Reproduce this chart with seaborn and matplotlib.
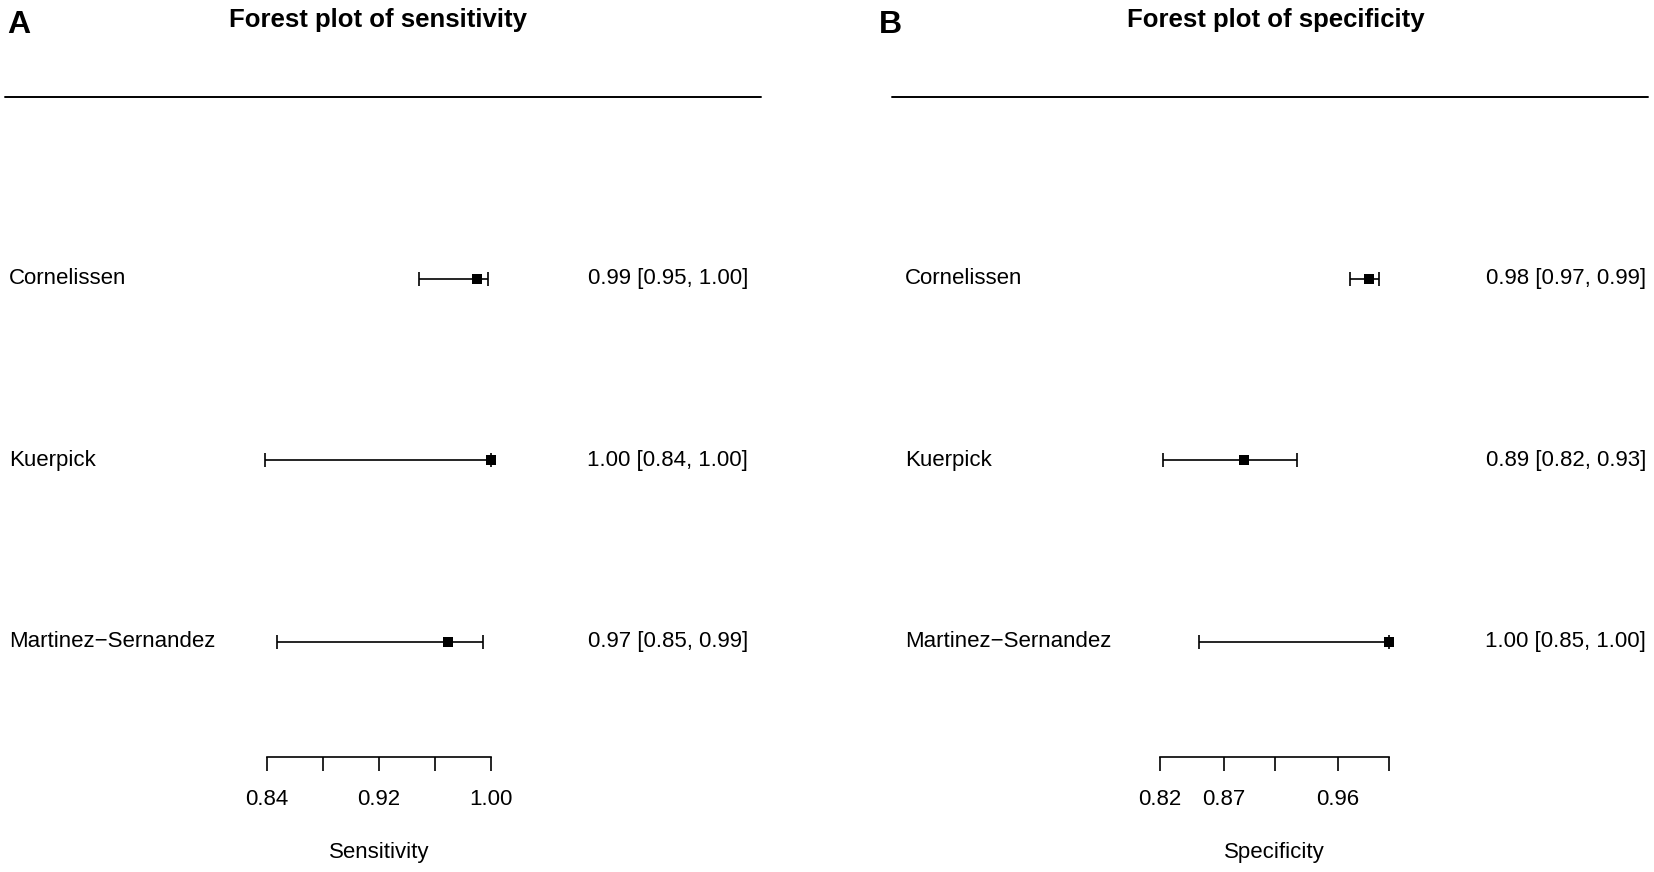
import numpy as np
import pandas as pd
import matplotlib
matplotlib.use('Agg')
import matplotlib.pyplot as plt
from matplotlib.lines import Line2D
from matplotlib.transforms import blended_transform_factory
import seaborn as sns

sns.set_theme(style='white')
plt.rcParams['font.family'] = ['Liberation Sans', 'DejaVu Sans']

# study names, top to bottom
studies = ['Cornelissen', 'Kuerpick', 'Martinez\u2212Sernandez']

# sensitivity estimates and 95% CI
sens_est = [0.990, 1.000, 0.969]
sens_lo = [0.9486, 0.8386, 0.847]
sens_hi = [0.998, 1.000, 0.994]
sens_ticks = [0.84, 0.88, 0.92, 0.96, 1.00]
sens_ticklabels = ['0.84', '', '0.92', '', '1.00']

# specificity estimates and 95% CI
spec_est = [0.984, 0.886, 1.000]
spec_lo = [0.969, 0.822, 0.851]
spec_hi = [0.992, 0.928, 1.000]
spec_ticks = [0.82, 0.87, 0.91, 0.96, 1.00]
spec_ticklabels = ['0.82', '0.87', '', '0.96', '']

W, H = 1654, 872
FS = 16


def fx(px):
    return px / W


def fy(py):
    return 1 - py / H


def forest_panel(fig, letter, title, est, lo, hi, ticks, ticklabels, xlabel,
                 ax_px, panel_px, title_x):
    left, right = ax_px
    p_left, p_right, lab_x, txt_x, letter_x = panel_px
    ax = fig.add_axes([fx(left), fy(757), fx(right - left), fy(97) - fy(757)])

    rows = [3, 2, 1]
    df = pd.DataFrame({'study': studies, 'est': est, 'lo': lo, 'hi': hi, 'row': rows})

    eb = ax.errorbar(df['est'], df['row'],
                     xerr=[df['est'] - df['lo'], df['hi'] - df['est']],
                     fmt='none', ecolor='black', elinewidth=1.2, capsize=4.7,
                     capthick=1.2, zorder=2)
    for art in eb.lines[1] + eb.lines[2]:
        art.set_clip_on(False)
    sns.scatterplot(data=df, x='est', y='row', marker='s', s=60, color='black',
                    edgecolor='black', linewidth=0, ax=ax, zorder=3, legend=False,
                    clip_on=False)

    ax.set_xlim(ticks[0], ticks[-1])
    ax.set_ylim(0.366, 4.0)
    ax.set_yticks([])
    for s in ['top', 'right', 'left']:
        ax.spines[s].set_visible(False)
    ax.spines['bottom'].set_color('black')
    ax.spines['bottom'].set_linewidth(1.2)
    ax.spines['bottom'].set_bounds(ticks[0], ticks[-1])
    ax.set_xticks(ticks)
    ax.set_xticklabels(ticklabels)
    ax.tick_params(axis='x', direction='out', length=10, width=1.2, color='black',
                   pad=13, labelsize=FS, labelcolor='black', bottom=True)
    ax.set_xlabel(xlabel, fontsize=FS, color='black', labelpad=23)
    ax.set_ylabel('')
    ax.patch.set_alpha(0)

    trans = blended_transform_factory(fig.transFigure, ax.transData)
    for _, r in df.iterrows():
        ax.text(fx(lab_x), r['row'], r['study'], transform=trans, ha='left',
                va='center', fontsize=FS, color='black', clip_on=False)
        ax.text(fx(txt_x), r['row'],
                '{:.2f} [{:.2f}, {:.2f}]'.format(r['est'], r['lo'], r['hi']),
                transform=trans, ha='right', va='center', fontsize=FS,
                color='black', clip_on=False)

    fig.text(fx(letter_x), fy(33), letter, fontsize=23, fontweight='bold',
             ha='left', va='baseline', color='black')
    fig.text(fx(title_x), fy(27), title,
             fontsize=18.5, fontweight='bold', ha='center', va='baseline', color='black')
    fig.add_artist(Line2D([fx(p_left), fx(p_right)], [fy(97), fy(97)],
                          color='black', linewidth=1.4))
    return ax


fig = plt.figure(figsize=(W / 100, H / 100), dpi=100)
fig.patch.set_facecolor('white')

forest_panel(fig, 'A', 'Forest plot of sensitivity', sens_est, sens_lo, sens_hi,
             sens_ticks, sens_ticklabels, 'Sensitivity',
             (267, 491), (5, 761, 9, 748, 7), 378)
forest_panel(fig, 'B', 'Forest plot of specificity', spec_est, spec_lo, spec_hi,
             spec_ticks, spec_ticklabels, 'Specificity',
             (1160, 1389), (892, 1648, 905, 1646, 879), 1276)

fig.savefig('out.png', dpi=100, facecolor='white')
